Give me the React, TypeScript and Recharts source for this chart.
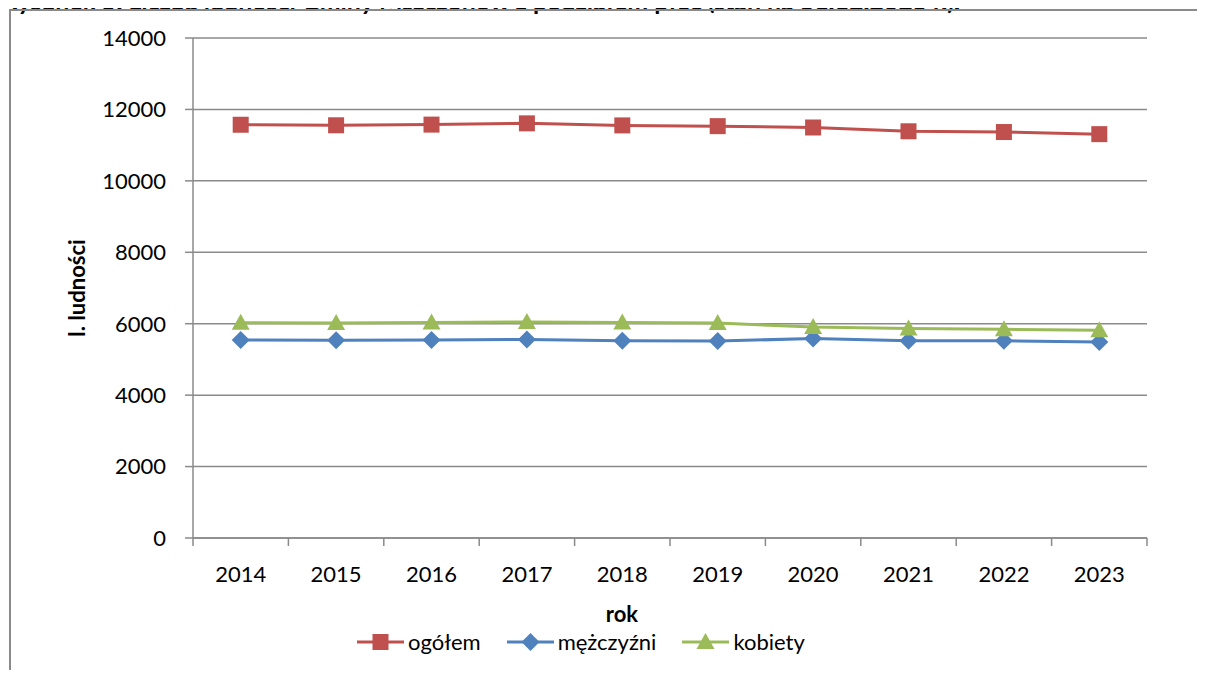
import { LineChart, Line, XAxis, YAxis, CartesianGrid, Legend } from 'recharts'

const years = ['2014', '2015', '2016', '2017', '2018', '2019', '2020', '2021', '2022', '2023']
const ogolem = [11571, 11556, 11575, 11610, 11553, 11532, 11494, 11388, 11367, 11308]
const mezczyzni = [5543, 5537, 5541, 5560, 5520, 5515, 5585, 5523, 5522, 5491]
const kobiety = [6028, 6019, 6034, 6050, 6033, 6017, 5909, 5865, 5845, 5817]
const yTicks = [0, 2000, 4000, 6000, 8000, 10000, 12000, 14000]

const data = years.map((rok, i) => ({
  rok,
  ogolem: ogolem[i],
  mezczyzni: mezczyzni[i],
  kobiety: kobiety[i],
}))

const FONT = 'Lato, "Open Sans", sans-serif'
const GRAY = '#8a8a8a'
const PLOT_W = 1205 - 93 - 100 - 58
const TICK_SIZE = 8
const TICK_MARGIN = 20

const series = [
  { key: 'ogolem', name: 'ogółem', color: '#C0504D', shape: 'square' },
  { key: 'mezczyzni', name: 'mężczyźni', color: '#4F81BD', shape: 'diamond' },
  { key: 'kobiety', name: 'kobiety', color: '#9BBB59', shape: 'triangle' },
]

const Marker = ({ cx, cy, shape, color }: any) => {
  if (cx == null || cy == null) return null
  if (shape === 'square') return <rect x={cx - 8} y={cy - 8} width={16} height={16} fill={color} />
  if (shape === 'diamond')
    return <polygon points={`${cx},${cy - 9} ${cx + 9},${cy} ${cx},${cy + 9} ${cx - 9},${cy}`} fill={color} />
  return <polygon points={`${cx},${cy - 9} ${cx + 9},${cy + 7} ${cx - 9},${cy + 7}`} fill={color} />
}

// year label plus Excel-style tick marks between categories
const YearTick = ({ x, y, payload, index, visibleTicksCount }: any) => {
  const half = PLOT_W / years.length / 2
  const axisY = y - TICK_SIZE - TICK_MARGIN
  const last = index === visibleTicksCount - 1
  return (
    <g>
      <line x1={x - half} x2={x - half} y1={axisY} y2={axisY + TICK_SIZE} stroke={GRAY} strokeWidth={1.5} />
      {last && <line x1={x + half} x2={x + half} y1={axisY} y2={axisY + TICK_SIZE} stroke={GRAY} strokeWidth={1.5} />}
      <text x={x} y={y} dy="0.71em" textAnchor="middle" fill="#000" fontSize={22} fontFamily={FONT}>
        {payload.value}
      </text>
    </g>
  )
}

const LegendContent = () => (
  <div style={{ display: 'flex', alignItems: 'center', fontFamily: FONT, fontSize: 22, color: '#000' }}>
    {series.map((s) => (
      <div key={s.key} style={{ display: 'flex', alignItems: 'center', marginRight: 26 }}>
        <svg width={47} height={22}>
          <line x1={0} x2={47} y1={11} y2={11} stroke={s.color} strokeWidth={3} />
          <Marker cx={23.5} cy={11} shape={s.shape} color={s.color} />
        </svg>
        <span style={{ marginLeft: 4, lineHeight: '26px' }}>{s.name}</span>
      </div>
    ))}
  </div>
)

export default function App() {
  const pad = PLOT_W / years.length / 2
  return (
    <div style={{ position: 'relative', width: 1205, height: 678, margin: -8, overflow: 'hidden', background: '#fff' }}>
      <svg width={1205} height={20} style={{ position: 'absolute', left: 0, top: 0, zIndex: 1 }}>
        <text x={2} y={10} fontFamily={FONT} fontSize={20} fontWeight="bold" fill="#000"
              textLength={958} lengthAdjust="spacingAndGlyphs">
          Rysunek 5. Liczba ludności Gminy Mszczonów z podziałem płeć (stan na 31.12.2023 r.).
        </text>
      </svg>
      <div
        style={{
          position: 'absolute', left: 9, top: 9, width: 1300, height: 800, zIndex: 2,
          border: `2px solid ${GRAY}`, boxSizing: 'border-box', pointerEvents: 'none',
          background: 'transparent',
        }}
      />
      <LineChart width={1205} height={678} data={data}
                 margin={{ top: 38, right: 58, bottom: 80, left: 93 }}>
        <CartesianGrid vertical={false} stroke={GRAY} strokeWidth={1.5} />
        <XAxis dataKey="rok" height={60} tickLine={false} tickSize={TICK_SIZE} tickMargin={TICK_MARGIN}
               padding={{ left: pad, right: pad }}
               axisLine={{ stroke: GRAY, strokeWidth: 1.5 }}
               tick={<YearTick />}
               label={() => (
                 <text x={622} y={622} textAnchor="middle" fontFamily={FONT} fontSize={22}
                       fontWeight="bold" fill="#000">rok</text>
               )} />
        <YAxis domain={[0, 14000]} ticks={yTicks} width={100} tickSize={8} tickMargin={19}
               axisLine={{ stroke: GRAY, strokeWidth: 1.5 }}
               tickLine={{ stroke: GRAY, strokeWidth: 1.5 }}
               tick={{ fill: '#000', fontSize: 22, fontFamily: FONT }}
               label={(props: any) => {
                 const vb = props.viewBox || { x: 93, y: 38, height: 500 }
                 const cx = vb.x - 17
                 const cy = vb.y + vb.height / 2
                 return (
                   <text x={cx} y={cy} transform={`rotate(-90, ${cx}, ${cy})`} textAnchor="middle"
                         dominantBaseline="central" fontFamily={FONT} fontSize={22}
                         fontWeight="bold" fill="#000">l. ludności</text>
                 )
               }} />
        {series.map((s) => (
          <Line key={s.key} type="linear" dataKey={s.key} name={s.name} stroke={s.color}
                strokeWidth={3} isAnimationActive={false}
                dot={(p: any) => <Marker key={`${s.key}-${p.index}`} cx={p.cx} cy={p.cy} shape={s.shape} color={s.color} />} />
        ))}
        <Legend layout="horizontal" verticalAlign="middle" align="center"
                wrapperStyle={{ left: 357, top: 629, width: 'auto' }}
                content={() => <LegendContent />} />
      </LineChart>
    </div>
  )
}
